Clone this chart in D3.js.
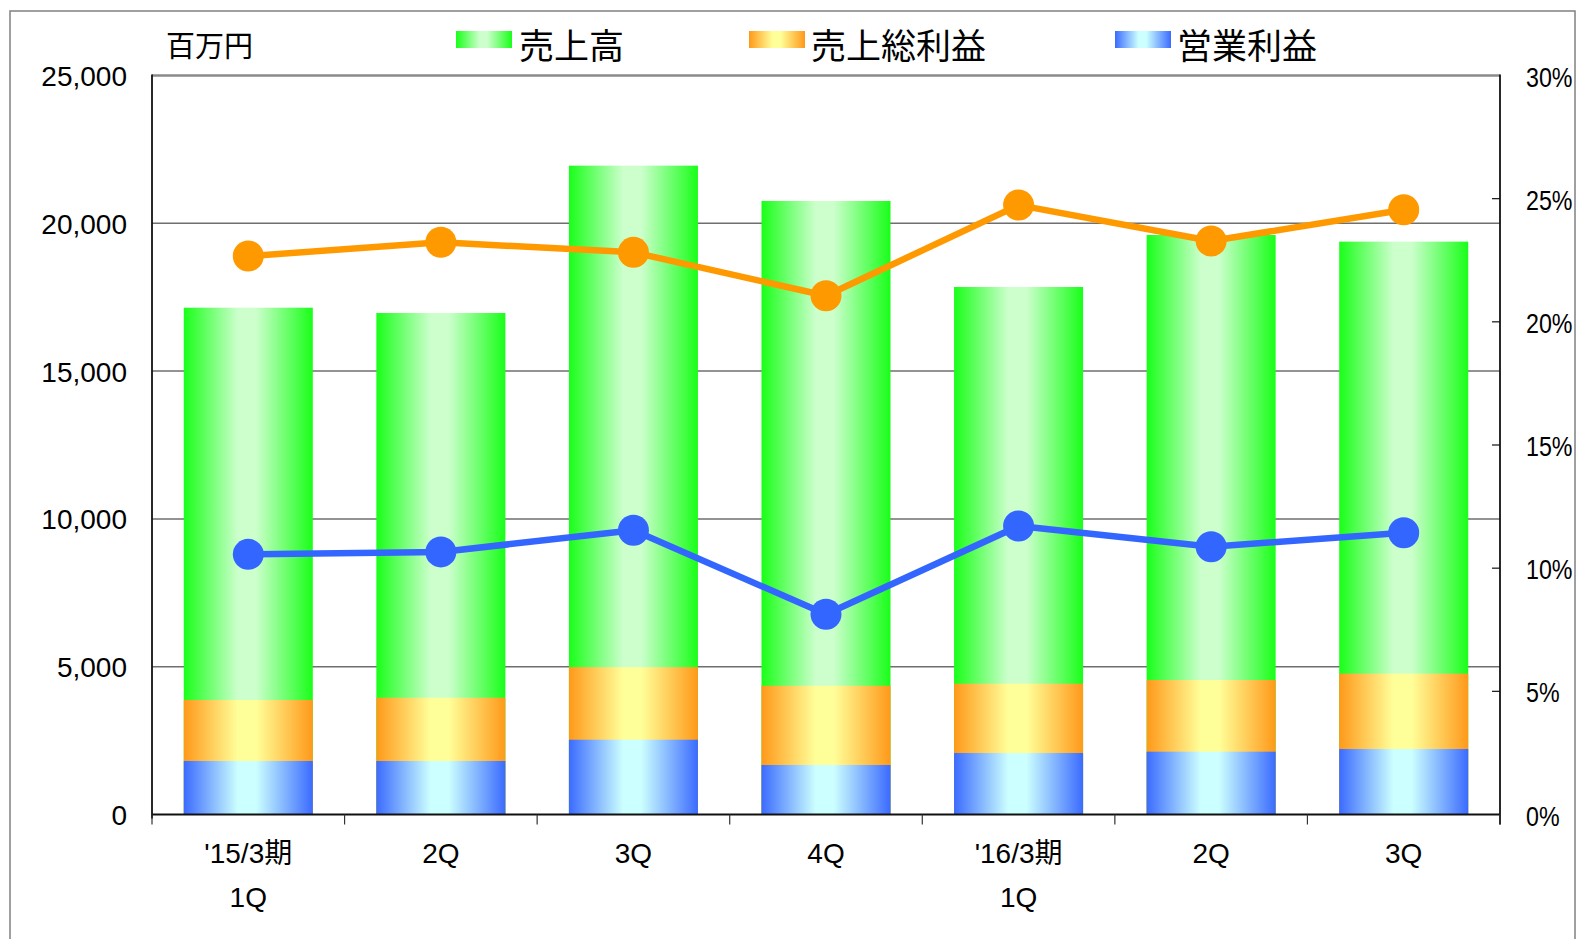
<!DOCTYPE html>
<html>
<head>
<meta charset="utf-8">
<script src="https://cdn.jsdelivr.net/npm/d3@7"></script>
<style>
  html, body { margin: 0; padding: 0; background: #ffffff; }
  svg { display: block; }
</style>
</head>
<body>
<svg id="chart" width="1577" height="939"></svg>
<script>
// ---- data ----
const categories = [["'15/3期", "1Q"], ["2Q"], ["3Q"], ["4Q"], ["'16/3期", "1Q"], ["2Q"], ["3Q"]];
const sales        = [17145, 16965, 21950, 20755, 17845, 19605, 19380];   // 売上高 (百万円)
const grossProfit  = [3875, 3950, 4985, 4355, 4425, 4550, 4765];          // 売上総利益
const opProfit     = [1810, 1810, 2530, 1675, 2080, 2125, 2215];          // 営業利益
const grossMargin  = [22.67, 23.23, 22.82, 21.06, 24.74, 23.28, 24.55];   // 売上総利益率 (%)
const opMargin     = [10.56, 10.66, 11.54, 8.13, 11.71, 10.87, 11.44];    // 営業利益率 (%)
const leftTicks  = [0, 5000, 10000, 15000, 20000, 25000];
const rightTicks = [0, 5, 10, 15, 20, 25, 30];
const seriesNames = ["売上高", "売上総利益", "営業利益"];
const unitLabel = "百万円";

// ---- layout ----
const svg = d3.select("#chart");
const L = 152, R = 1500, T = 75.5, B = 814.5;
const numFont = "'Liberation Sans', Arial, 'Noto Sans CJK JP', sans-serif";
const cjkFont = "'Noto Sans CJK JP', 'Noto Sans CJK SC', sans-serif";

const x = d3.scaleBand().domain(d3.range(categories.length)).range([L, R])
  .paddingInner(0.33).paddingOuter(0.165);
const y = d3.scaleLinear().domain([0, 25000]).range([B, T]);
const y2 = d3.scaleLinear().domain([0, 30]).range([B, T]);

// outer frame
svg.append("rect").attr("x", 10).attr("y", 11).attr("width", 1565).attr("height", 960)
  .attr("fill", "#fff").attr("stroke", "#808080").attr("stroke-width", 1.5);

// gradients
const defs = svg.append("defs");
const grads = [
  {id: "gGreen", edge: "#19ff19", mid: "#ccffcc"},
  {id: "gOrange", edge: "#ff9919", mid: "#ffff99"},
  {id: "gBlue", edge: "#3b6bff", mid: "#ccffff"}
];
grads.forEach(g => {
  const lg = defs.append("linearGradient").attr("id", g.id)
    .attr("x1", "0%").attr("x2", "100%").attr("y1", "0%").attr("y2", "0%");
  lg.append("stop").attr("offset", "0%").attr("stop-color", g.edge);
  lg.append("stop").attr("offset", "42%").attr("stop-color", g.mid);
  lg.append("stop").attr("offset", "56%").attr("stop-color", g.mid);
  lg.append("stop").attr("offset", "100%").attr("stop-color", g.edge);
});

// gridlines
svg.append("g").selectAll("line").data(leftTicks.filter(t => t > 0 && t < 25000)).join("line")
  .attr("x1", L).attr("x2", R).attr("y1", d => y(d)).attr("y2", d => y(d))
  .attr("stroke", "#6f6f6f").attr("stroke-width", 1.5);
// top border
svg.append("line").attr("x1", L).attr("x2", R).attr("y1", T).attr("y2", T)
  .attr("stroke", "#8a8a8a").attr("stroke-width", 2.5);

// bars (overlapping, each from 0)
const barSets = [
  {vals: sales, fill: "url(#gGreen)"},
  {vals: grossProfit, fill: "url(#gOrange)"},
  {vals: opProfit, fill: "url(#gBlue)"}
];
barSets.forEach(s => {
  svg.append("g").selectAll("rect").data(s.vals).join("rect")
    .attr("x", (d, i) => x(i)).attr("width", x.bandwidth())
    .attr("y", d => y(d)).attr("height", d => B - y(d))
    .attr("fill", s.fill);
});

// axes
const yAxisL = d3.axisLeft(y).tickValues(leftTicks).tickSize(0).tickPadding(25)
  .tickFormat(d3.format(","));
const gL = svg.append("g").attr("transform", `translate(${L},0)`).call(yAxisL);
gL.select(".domain").remove();
gL.selectAll("text").attr("font-family", numFont).attr("font-size", 28).attr("fill", "#000")
  .attr("dy", "0.36em");
svg.append("line").attr("x1", L).attr("x2", L).attr("y1", T - 1).attr("y2", B + 4)
  .attr("stroke", "#111").attr("stroke-width", 1.8);

const yAxisR = d3.axisRight(y2).tickValues(rightTicks).tickSize(0).tickPadding(0)
  .tickFormat(d => d + "%");
const gR = svg.append("g").attr("transform", `translate(${R + 26},0)`).call(yAxisR);
gR.select(".domain").remove();
gR.selectAll("text").attr("font-family", numFont).attr("font-size", 28).attr("fill", "#000")
  .attr("x", 0).attr("dy", "0.38em")
  .attr("transform", "scale(0.83,1)");
// inward right ticks
svg.append("g").selectAll("line").data(rightTicks.filter(t => t > 0 && t < 30)).join("line")
  .attr("x1", R - 8).attr("x2", R).attr("y1", d => y2(d)).attr("y2", d => y2(d))
  .attr("stroke", "#111").attr("stroke-width", 1.2);
svg.append("line").attr("x1", R).attr("x2", R).attr("y1", T - 1).attr("y2", B + 10)
  .attr("stroke", "#111").attr("stroke-width", 1.8);

// bottom axis
svg.append("line").attr("x1", L).attr("x2", R).attr("y1", B).attr("y2", B)
  .attr("stroke", "#111").attr("stroke-width", 2.2);
const boundaries = d3.range(categories.length + 1).map(i => L + i * x.step());
svg.append("g").selectAll("line").data(boundaries).join("line")
  .attr("x1", d => d).attr("x2", d => d).attr("y1", B).attr("y2", B + 10)
  .attr("stroke", "#333").attr("stroke-width", 1.2);

// category labels
const catG = svg.append("g");
categories.forEach((lines, i) => {
  const cx = x(i) + x.bandwidth() / 2;
  lines.forEach((t, j) => {
    catG.append("text").attr("x", cx).attr("y", 863 + j * 44)
      .attr("text-anchor", "middle").attr("font-family", numFont)
      .attr("font-size", 28).attr("fill", "#000").text(t);
  });
});

// lines
const lineSets = [
  {vals: grossMargin, color: "#ff9900"},
  {vals: opMargin, color: "#3366ff"}
];
lineSets.forEach(s => {
  const line = d3.line().x((d, i) => x(i) + x.bandwidth() / 2).y(d => y2(d));
  svg.append("path").datum(s.vals).attr("d", line)
    .attr("fill", "none").attr("stroke", s.color).attr("stroke-width", 6.5)
    .attr("stroke-linejoin", "round");
  svg.append("g").selectAll("circle").data(s.vals).join("circle")
    .attr("cx", (d, i) => x(i) + x.bandwidth() / 2).attr("cy", d => y2(d))
    .attr("r", 15.5).attr("fill", s.color);
});

// unit label
svg.append("text").attr("x", 166).attr("y", 44).attr("dominant-baseline", "central")
  .attr("font-family", cjkFont).attr("font-size", 29).attr("fill", "#000").text(unitLabel);

// legend
const legendPos = [{sx: 456, tx: 519}, {sx: 749, tx: 811}, {sx: 1115, tx: 1177}];
const legendFills = ["url(#gGreen)", "url(#gOrange)", "url(#gBlue)"];
seriesNames.forEach((name, i) => {
  svg.append("rect").attr("x", legendPos[i].sx).attr("y", 31).attr("width", 56).attr("height", 17)
    .attr("fill", legendFills[i]);
  svg.append("text").attr("x", legendPos[i].tx).attr("y", 43).attr("dominant-baseline", "central")
    .attr("font-family", cjkFont).attr("font-size", 35).attr("fill", "#000").text(name);
});
</script>
</body>
</html>
